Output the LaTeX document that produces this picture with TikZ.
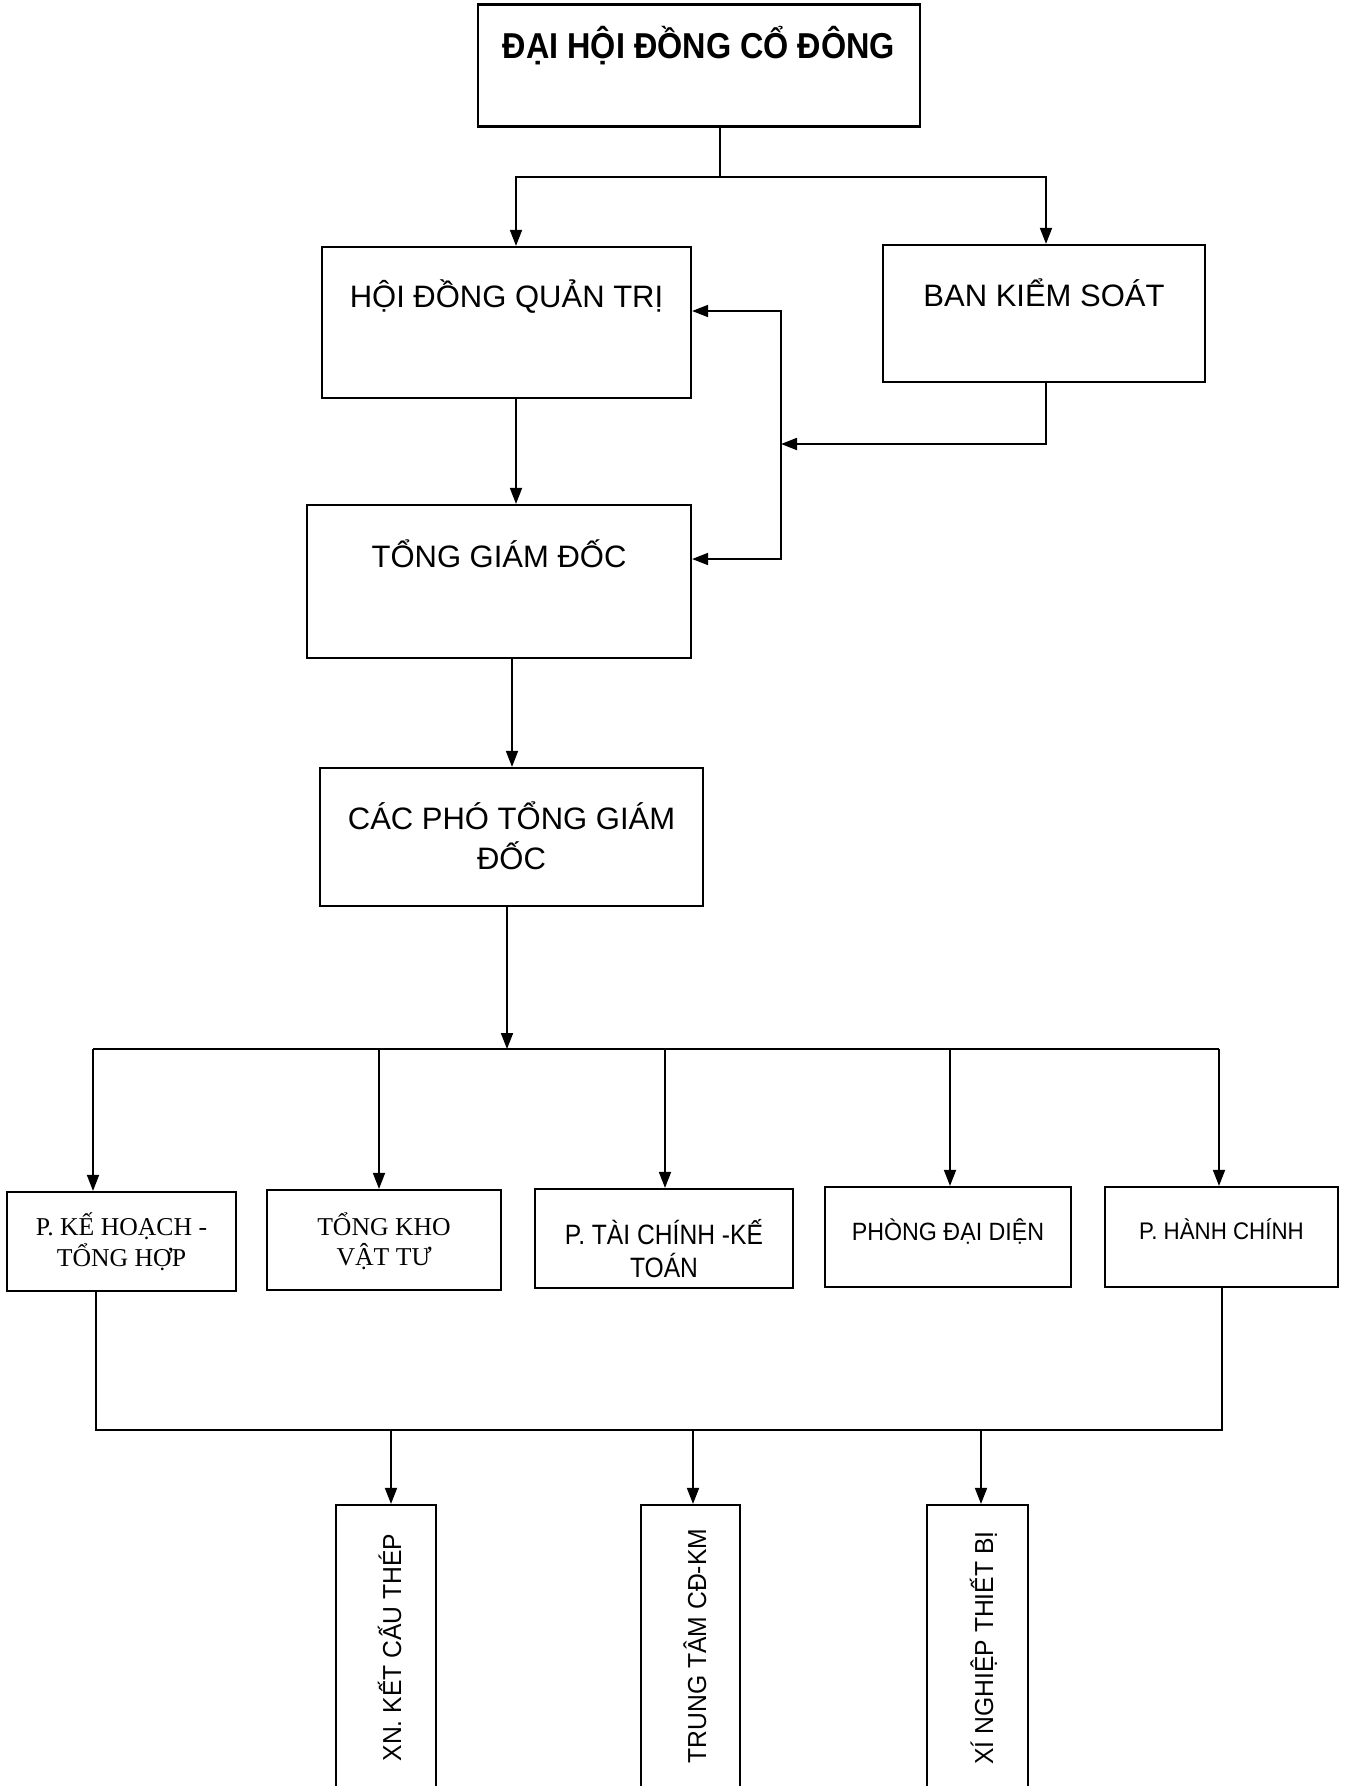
\documentclass[tikz,border=0pt]{standalone}
\usepackage{fontspec}
\setmainfont{Liberation Sans}
\newfontfamily\fTop{Liberation Sans}[FakeStretch=0.9]
\newfontfamily\fArial{Liberation Sans}
\newfontfamily\fThree{Liberation Sans}[FakeStretch=0.88]
\newfontfamily\fFour{Liberation Sans}[FakeStretch=0.93]
\newfontfamily\fBot{Liberation Sans}[FakeStretch=0.95]
\newfontfamily\fTimes{Liberation Serif}
\usetikzlibrary{arrows.meta}
\begin{document}
\begin{tikzpicture}[x=1bp,y=-1bp,
  box/.style={draw, line width=2.2bp, rectangle, inner sep=0pt},
  ln/.style={line width=1.8bp},
  arr/.style={line width=1.8bp, -{Triangle[length=16bp,width=12bp]}},
  both/.style={line width=1.8bp, {Triangle[length=16bp,width=12bp]}-{Triangle[length=16bp,width=12bp]}},
  txt/.style={inner sep=0pt, anchor=base},
  toptxt/.style={txt, font=\fTop\bfseries\fontsize{36bp}{42bp}\selectfont},
  midtxt/.style={txt, font=\fArial\fontsize{31bp}{40bp}\selectfont},
  timestxt/.style={txt, font=\fTimes\fontsize{25.7bp}{28bp}\selectfont},
  threetxt/.style={txt, font=\fThree\fontsize{28bp}{32bp}\selectfont},
  fourtxt/.style={txt, font=\fFour\fontsize{25bp}{28bp}\selectfont},
  fivetxt/.style={txt, font=\fFour\fontsize{24bp}{28bp}\selectfont},
  bottxt/.style={txt, rotate=90, font=\fBot\fontsize{26bp}{30bp}\selectfont}]
\clip (0,0) rectangle (1350,1786);
\fill[white] (0,0) rectangle (1350,1786);

% boxes
\node[box, minimum width=442bp, minimum height=122bp] (dh) at (699,65.5) {};
\node[box, minimum width=369bp, minimum height=151bp] (hdqt) at (506.5,322.5) {};
\node[box, minimum width=322bp, minimum height=137bp] (bks) at (1044,313.5) {};
\node[box, minimum width=384bp, minimum height=153bp] (tgd) at (499,581.5) {};
\node[box, minimum width=383bp, minimum height=138bp] (cpt) at (511.5,837) {};
\node[box, minimum width=229bp, minimum height=99bp] (k1) at (121.5,1241.5) {};
\node[box, minimum width=234bp, minimum height=100bp] (k2) at (384,1240) {};
\node[box, minimum width=258bp, minimum height=99bp] (k3) at (664,1238.5) {};
\node[box, minimum width=246bp, minimum height=100bp] (k4) at (948,1237) {};
\node[box, minimum width=233bp, minimum height=100bp] (k5) at (1221.5,1237) {};
\node[box, minimum width=100bp, minimum height=300bp] (x1) at (386,1655) {};
\node[box, minimum width=99bp, minimum height=300bp] (x2) at (690.5,1655) {};
\node[box, minimum width=101bp, minimum height=300bp] (x3) at (977.5,1655) {};

% texts
\node[toptxt] (dht) at (699,58) {ĐẠI HỘI ĐỒNG CỔ ĐÔNG};
\node[midtxt] (hdqtt) at (506.5,307) {HỘI ĐỒNG QUẢN TRỊ};
\node[midtxt] (bkst) at (1044,306) {BAN KIỂM SOÁT};
\node[midtxt] (tgdt) at (499,567) {TỔNG GIÁM ĐỐC};
\node[midtxt] (cptt) at (511.5,829) {\begin{tabular}[t]{@{}c@{}}CÁC PHÓ TỔNG GIÁM\\ĐỐC\end{tabular}};
\node[timestxt] (k1t) at (121.5,1235) {\begin{tabular}[t]{@{}c@{}}P. KẾ HOẠCH -\\TỔNG HỢP\end{tabular}};
\node[timestxt] (k2t) at (384,1235) {\begin{tabular}[t]{@{}c@{}}TỔNG KHO\\VẬT TƯ\end{tabular}};
\node[threetxt] (k3t) at (664,1244) {\begin{tabular}[t]{@{}c@{}}P. TÀI CHÍNH -KẾ\\TOÁN\end{tabular}};
\node[fourtxt] (k4t) at (948,1240) {PHÒNG ĐẠI DIỆN};
\node[fivetxt] (k5t) at (1221.5,1239) {P. HÀNH CHÍNH};
\node[bottxt] (x1t) at (401,1647.5) {XN. KẾT CẤU THÉP};
\node[bottxt] (x2t) at (706,1646) {TRUNG TÂM CĐ-KM};
\node[bottxt] (x3t) at (993,1648) {XÍ NGHIỆP THIẾT BỊ};

% coordinates
\coordinate (t0) at (720,177);
\coordinate (xa) at (516,0);
\coordinate (xb) at (512,0);
\coordinate (xc) at (507,0);
\coordinate (d1) at (93,1049);
\coordinate (d2) at (379,1049);
\coordinate (d3) at (665,1049);
\coordinate (d4) at (950,1049);
\coordinate (d5) at (1219,1049);
\coordinate (e1) at (96,1430);
\coordinate (e5) at (1222,1430);
\coordinate (g1) at (391,1430);
\coordinate (g2) at (693,1430);
\coordinate (g3) at (981,1430);
\coordinate (fb1) at (781,311);
\coordinate (fb2) at (781,444);
\coordinate (fb3) at (781,559);

% connectors
\draw[ln] (dh.south -| t0) -- (t0);
\draw[both] ([xshift=9.5bp]hdqt.north) |- (t0) -| ([xshift=2bp]bks.north);
\draw[arr] (hdqt.south -| xa) -- (tgd.north -| xa);
\draw[arr] (tgd.south -| xb) -- (cpt.north -| xb);
\draw[arr] (cpt.south -| xc) -- (xc |- d1);
\draw[ln] (d1) -- (d5);
\draw[arr] (d1) -- (k1.north -| d1);
\draw[arr] (d2) -- (k2.north -| d2);
\draw[arr] (d3) -- (k3.north -| d3);
\draw[arr] (d4) -- (k4.north -| d4);
\draw[arr] (d5) -- (k5.north -| d5);
\draw[ln] (k1.south -| e1) -- (e1) -- (e5) -- (k5.south -| e5);
\draw[arr] (g1) -- (x1.north -| g1);
\draw[arr] (g2) -- (x2.north -| g2);
\draw[arr] (g3) -- (x3.north -| g3);
\draw[both] (fb1 -| hdqt.east) -- (fb1) -- (fb3) -- (fb3 -| tgd.east);
\draw[arr] ([xshift=2bp]bks.south) |- (fb2);
\end{tikzpicture}
\end{document}
